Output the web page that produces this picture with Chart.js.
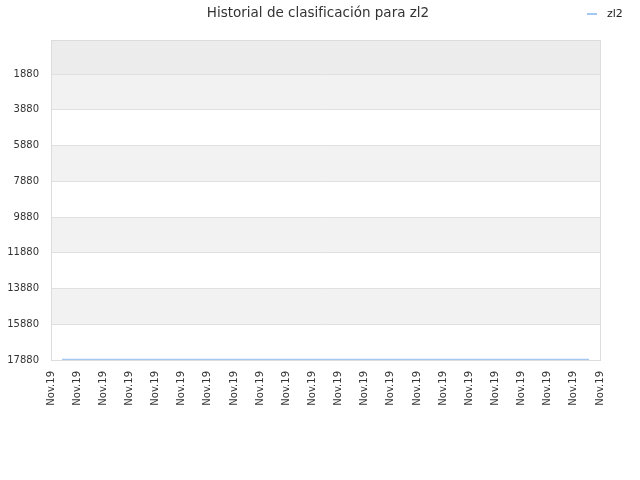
<!DOCTYPE html>
<html lang="es">
<head>
    <meta charset="UTF-8">
    <title>Historial de clasificación para zl2</title>
    <script src="https://cdn.jsdelivr.net/npm/chart.js"></script>
    <style>
        body { margin: 0; background: #fff; }
        #wrap { position: relative; width: 640px; height: 480px; }
        #titulo {
            position: absolute; top: 4px; left: 18px; width: 600px;
            text-align: center; white-space: nowrap;
            font: 13.5px "DejaVu Sans", sans-serif; color: #333;
        }
        #leyenda {
            position: absolute; top: 7px; left: 587px;
            font: 11px "DejaVu Sans", sans-serif; color: #222;
            display: flex; align-items: center;
        }
        #leyenda span.linea {
            display: inline-block; width: 10px; height: 2px;
            background: #a5c8f0; margin-right: 10px;
        }
    </style>
</head>
<body>
<div id="wrap">
    <canvas id="historial" width="640" height="480"></canvas>
    <div id="titulo">Historial de clasificación para zl2</div>
    <div id="leyenda"><span class="linea"></span>zl2</div>
</div>

<script>
    // etiquetas del eje x (todas del mismo mes)
    const etiquetas = ["Nov.19", "Nov.19", "Nov.19", "Nov.19", "Nov.19", "Nov.19", "Nov.19", "Nov.19",
        "Nov.19", "Nov.19", "Nov.19", "Nov.19", "Nov.19", "Nov.19", "Nov.19", "Nov.19",
        "Nov.19", "Nov.19", "Nov.19", "Nov.19", "Nov.19", "Nov.19"];
    const marcasY = [1880, 3880, 5880, 7880, 9880, 11880, 13880, 15880, 17880];

    // posiciones de la serie y su clasificación
    const posiciones = [0.42, 2.5, 5, 7.5, 10, 12.5, 15, 17.5, 20.58];
    const clasificacion = [17850, 17850, 17850, 17850, 17850, 17850, 17850, 17850, 17850];

    const puntos = posiciones.map((x, i) => ({ x: x, y: clasificacion[i] }));

    const bandas = {
        id: 'bandas',
        beforeDraw(chart) {
            const { ctx, chartArea, scales } = chart;
            const y = scales.y;
            ctx.save();
            // franja superior antes de la primera marca
            ctx.fillStyle = '#ececec';
            let yPrimera = y.getPixelForValue(marcasY[0]);
            ctx.fillRect(chartArea.left, chartArea.top, chartArea.width, yPrimera - chartArea.top);
            for (let i = 0; i < marcasY.length - 1; i++) {
                if (i % 2 === 0) {
                    const a = y.getPixelForValue(marcasY[i]);
                    const b = y.getPixelForValue(marcasY[i + 1]);
                    ctx.fillStyle = '#f2f2f2';
                    ctx.fillRect(chartArea.left, a, chartArea.width, b - a);
                }
            }
            ctx.restore();
        },
        afterDraw(chart) {
            const { ctx, chartArea } = chart;
            ctx.save();
            ctx.strokeStyle = '#dcdcdc';
            ctx.lineWidth = 1;
            ctx.strokeRect(Math.round(chartArea.left) + 0.5, Math.round(chartArea.top) + 0.5,
                Math.round(chartArea.width), Math.round(chartArea.height));
            ctx.restore();
        }
    };

    Chart.defaults.font.family = '"DejaVu Sans", sans-serif';

    const ctx = document.getElementById('historial').getContext('2d');
    new Chart(ctx, {
        type: 'line',
        data: {
            datasets: [{
                label: 'zl2',
                data: puntos,
                borderColor: '#a5c8f0',
                borderWidth: 1.5,
                pointRadius: 0,
                fill: false,
                tension: 0
            }]
        },
        options: {
            responsive: false,
            animation: false,
            layout: { padding: { top: 40, right: 40 } },
            plugins: {
                legend: { display: false },
                tooltip: { enabled: false },
                title: { display: false }
            },
            scales: {
                x: {
                    type: 'linear',
                    min: 0,
                    max: etiquetas.length - 1,
                    grid: { display: false, drawTicks: false },
                    border: { display: false },
                    afterBuildTicks(scale) {
                        scale.ticks = etiquetas.map((_, i) => ({ value: i }));
                    },
                    afterFit(scale) { scale.height = 120; },
                    ticks: {
                        color: '#333',
                        font: { size: 10 },
                        autoSkip: false,
                        minRotation: 90,
                        maxRotation: 90,
                        padding: 11,
                        callback: (v) => etiquetas[v]
                    }
                },
                y: {
                    reverse: true,
                    min: -30,
                    max: 17880,
                    border: { display: false },
                    grid: { color: '#e0e0e0', drawTicks: false },
                    afterBuildTicks(scale) {
                        scale.ticks = marcasY.map(v => ({ value: v }));
                    },
                    afterFit(scale) { scale.width = 51; },
                    ticks: {
                        color: '#333',
                        font: { size: 10 },
                        padding: 12,
                        callback: (v) => String(v)
                    }
                }
            }
        },
        plugins: [bandas]
    });
</script>
</body>
</html>
